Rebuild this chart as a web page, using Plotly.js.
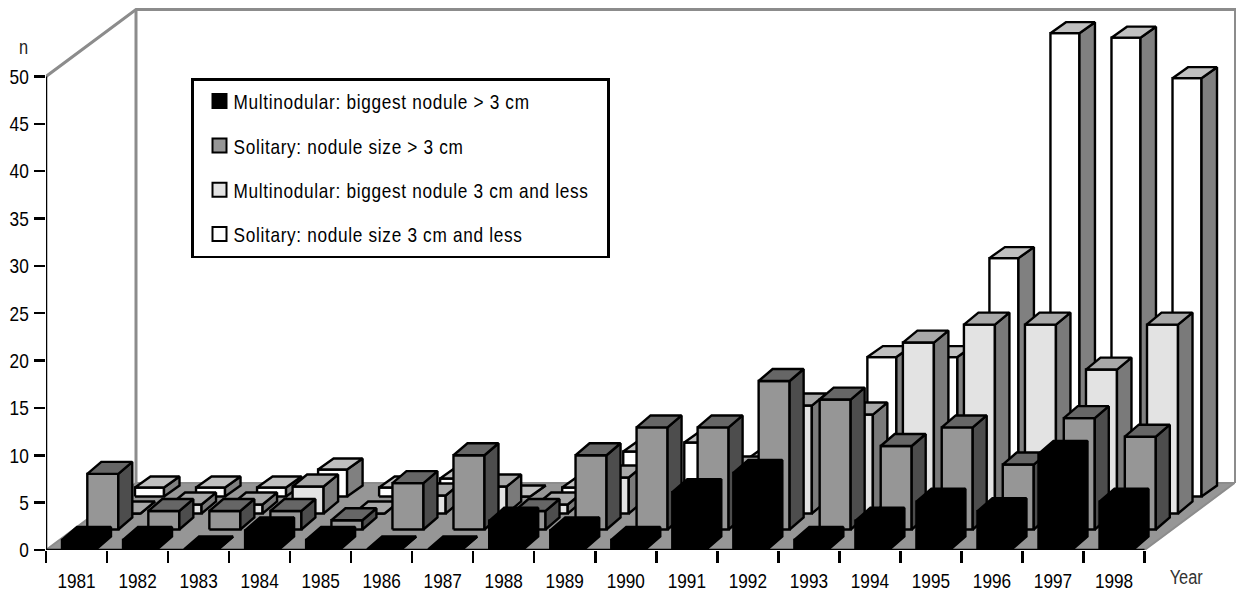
<!DOCTYPE html>
<html><head><meta charset="utf-8">
<script src="https://cdn.plot.ly/plotly-3.0.1.min.js"></script>
<style>
html,body{margin:0;padding:0;background:#fff}
.legendtext{letter-spacing:.83px}
.legendsymbols{transform:translateX(6px)}
</style></head><body><div id="chart" style="width:1236px;height:595px"></div>
<script>
// ---- data ----
const years = ['1981','1982','1983','1984','1985','1986','1987','1988','1989','1990','1991','1992','1993','1994','1995','1996','1997','1998'];
const multiLarge  = [1,1,0,2,1,0,0,3,2,1,6,8,1,3,5,4,10,5];
const soloLarge   = [6,2,2,2,1,5,8,2,8,11,11,16,14,9,11,7,12,10];
const multiSmall  = [0,1,1,3,0,2,3,1,4,2,5,12,11,19,21,21,16,21];
const soloSmall   = [1,1,1,3,1,2,0,1,5,6,4,8,15.5,15.5,26.5,51.5,51,46.5];
const seriesNames = ['Multinodular: biggest nodule > 3 cm','Solitary: nodule size > 3 cm','Multinodular: biggest nodule 3 cm and less','Solitary: nodule size 3 cm and less'];
const yTicks = [0,5,10,15,20,25,30,35,40,45,50];

// ---- oblique projection (category units in x, value units in y) ----
const PX_X = 61.03, PX_Y = 9.48, X0 = 46, Y0 = 550.5;
const planes = [
  {left:16/PX_X, w:34/PX_X, base:0.5/PX_Y,  k:1.01, dx:15/PX_X, dy:13/PX_Y, face:'#000000', top:'#000000', side:'#000000'},
  {left:41.3/PX_X, w:31/PX_X, base:20.5/PX_Y, k:0.98, dx:14/PX_X, dy:12/PX_Y, face:'#969696', top:'#666666', side:'#4d4d4d'},
  {left:63.5/PX_X, w:31/PX_X, base:36.5/PX_Y, k:0.95, dx:14.5/PX_X, dy:12/PX_Y, face:'#e3e3e3', top:'#a8a8a8', side:'#7a7a7a'},
  {left:89/PX_X, w:29/PX_X, base:53.5/PX_Y, k:0.95, dx:15.5/PX_X, dy:11/PX_Y, face:'#ffffff', top:'#c0c0c0', side:'#808080'}
];
const DEPTH_X = 90/PX_X, DEPTH_Y = 67/PX_Y, XMAX = 1190/PX_X, YMAX = Y0/PX_Y, N = years.length;
const values = [multiLarge, soloLarge, multiSmall, soloSmall];
const OUT = {color:'#000000', width:2.4};

function polys(vals, p, kind){
  const xs=[], ys=[];
  vals.forEach((v,i)=>{
    const l=i+p.left, r=l+p.w, b=p.base, t=b+v*p.k;
    let q;
    if(kind==='face') q=[[l,b],[l,t],[r,t],[r,b],[l,b]];
    if(kind==='top')  q=[[l,t],[l+p.dx,t+p.dy],[r+p.dx,t+p.dy],[r,t],[l,t]];
    if(kind==='side') q=[[r,b],[r,t],[r+p.dx,t+p.dy],[r+p.dx,b+p.dy],[r,b]];
    q.forEach(c=>{xs.push(c[0]);ys.push(c[1]);});
    xs.push(null);ys.push(null);
  });
  return {x:xs,y:ys};
}

const traces = [];
const GRAY = '#8c8c8c';
// floor
traces.push({x:[0,N,N+DEPTH_X,DEPTH_X,0],y:[0,0,DEPTH_Y,DEPTH_Y,0],mode:'lines',fill:'toself',fillcolor:'#969696',line:{color:GRAY,width:2},showlegend:false,hoverinfo:'skip'});
// walls outline
traces.push({x:[0,DEPTH_X,XMAX,null,DEPTH_X,DEPTH_X],y:[50,50+DEPTH_Y,50+DEPTH_Y,null,50+DEPTH_Y,DEPTH_Y],mode:'lines',line:{color:GRAY,width:3},showlegend:false,hoverinfo:'skip'});
traces.push({x:[XMAX,XMAX],y:[50+DEPTH_Y,DEPTH_Y],mode:'lines',line:{color:GRAY,width:4},showlegend:false,hoverinfo:'skip'});
// bars, back row first
for(let s=3;s>=0;s--){
  ['face','side','top'].forEach(kind=>{
    const g=polys(values[s],planes[s],kind);
    traces.push({x:g.x,y:g.y,mode:'lines',fill:'toself',fillcolor:planes[s][kind],line:OUT,showlegend:false,name:seriesNames[s],hoverinfo:'name'});
  });
}
// axis lines
traces.push({x:[0,0],y:[0,50],mode:'lines',line:{color:'#000',width:2.5},showlegend:false,hoverinfo:'skip'});
traces.push({x:[0,N],y:[0,0],mode:'lines',line:{color:'#000',width:2.5},showlegend:false,hoverinfo:'skip',xaxis:'x2'});
// legend entries
seriesNames.forEach((n,s)=>{
  traces.push({x:[null],y:[null],mode:'markers',name:n,legendgroup:'g'+s,marker:{symbol:'square',size:14,color:planes[s].face,line:{color:'#000',width:2}},hoverinfo:'skip'});
});

const FONT = '"Liberation Sans",Arial,sans-serif';
const layout = {
  width:1236,height:595,paper_bgcolor:'#fff',plot_bgcolor:'#fff',
  margin:{l:X0,r:0,t:0,b:595-Y0,pad:0},
  font:{family:FONT,size:21,color:'#000'},
  xaxis:{range:[0,XMAX],tickmode:'array',tickvals:years.map((_,i)=>i+0.5),ticktext:years,ticks:'',showgrid:false,zeroline:false,showline:false,ticklabelstandoff:16,tickfont:{size:21,family:FONT}},
  xaxis2:{range:[0,XMAX],overlaying:'x',anchor:'y',side:'bottom',tickmode:'array',tickvals:years.map((_,i)=>i).concat([N]),ticks:'outside',ticklen:12,tickwidth:2.5,tickcolor:'#000',showticklabels:false,showgrid:false,zeroline:false,showline:false},
  yaxis:{range:[0,YMAX],tickmode:'array',tickvals:yTicks,ticks:'outside',ticklen:11,tickwidth:2.5,tickcolor:'#000',showgrid:false,zeroline:false,showline:false,tickfont:{size:21,family:FONT},ticklabelstandoff:1},
  showlegend:true,
  legend:{x:(191-X0)/1190,y:(Y0-78.5)/Y0,xanchor:'left',yanchor:'top',bgcolor:'#fff',bordercolor:'#000',borderwidth:2.5,traceorder:'grouped',tracegroupgap:14,font:{size:21,family:FONT},itemclick:false},
  annotations:[
    {xref:'paper',yref:'paper',x:(23-X0)/1190,y:(Y0-47)/Y0,xanchor:'center',yanchor:'middle',text:'n',showarrow:false,font:{size:20,family:FONT,color:'#222'}},
    {xref:'paper',yref:'paper',x:(1186-X0)/1190,y:(Y0-578)/Y0,xanchor:'center',yanchor:'middle',text:'Year',showarrow:false,font:{size:20,family:FONT,color:'#333'}}
  ]
};
Plotly.newPlot('chart',traces,layout,{displayModeBar:false,staticPlot:true}).then(gd=>{
  // the reference uses a narrow face: condense the real text glyphs
  gd.querySelectorAll('.xtick text, .ytick text, .legendtext, .annotation-text').forEach(t=>{
    t.setAttribute('lengthAdjust','spacingAndGlyphs');
    t.setAttribute('textLength',(t.getComputedTextLength()*0.82).toFixed(1));
  });
  // legend frame follows the condensed text
  const bg=gd.querySelector('.legend .bg');
  if(bg){bg.setAttribute('width','416');bg.setAttribute('height','177.5');}
});
</script></body></html>
